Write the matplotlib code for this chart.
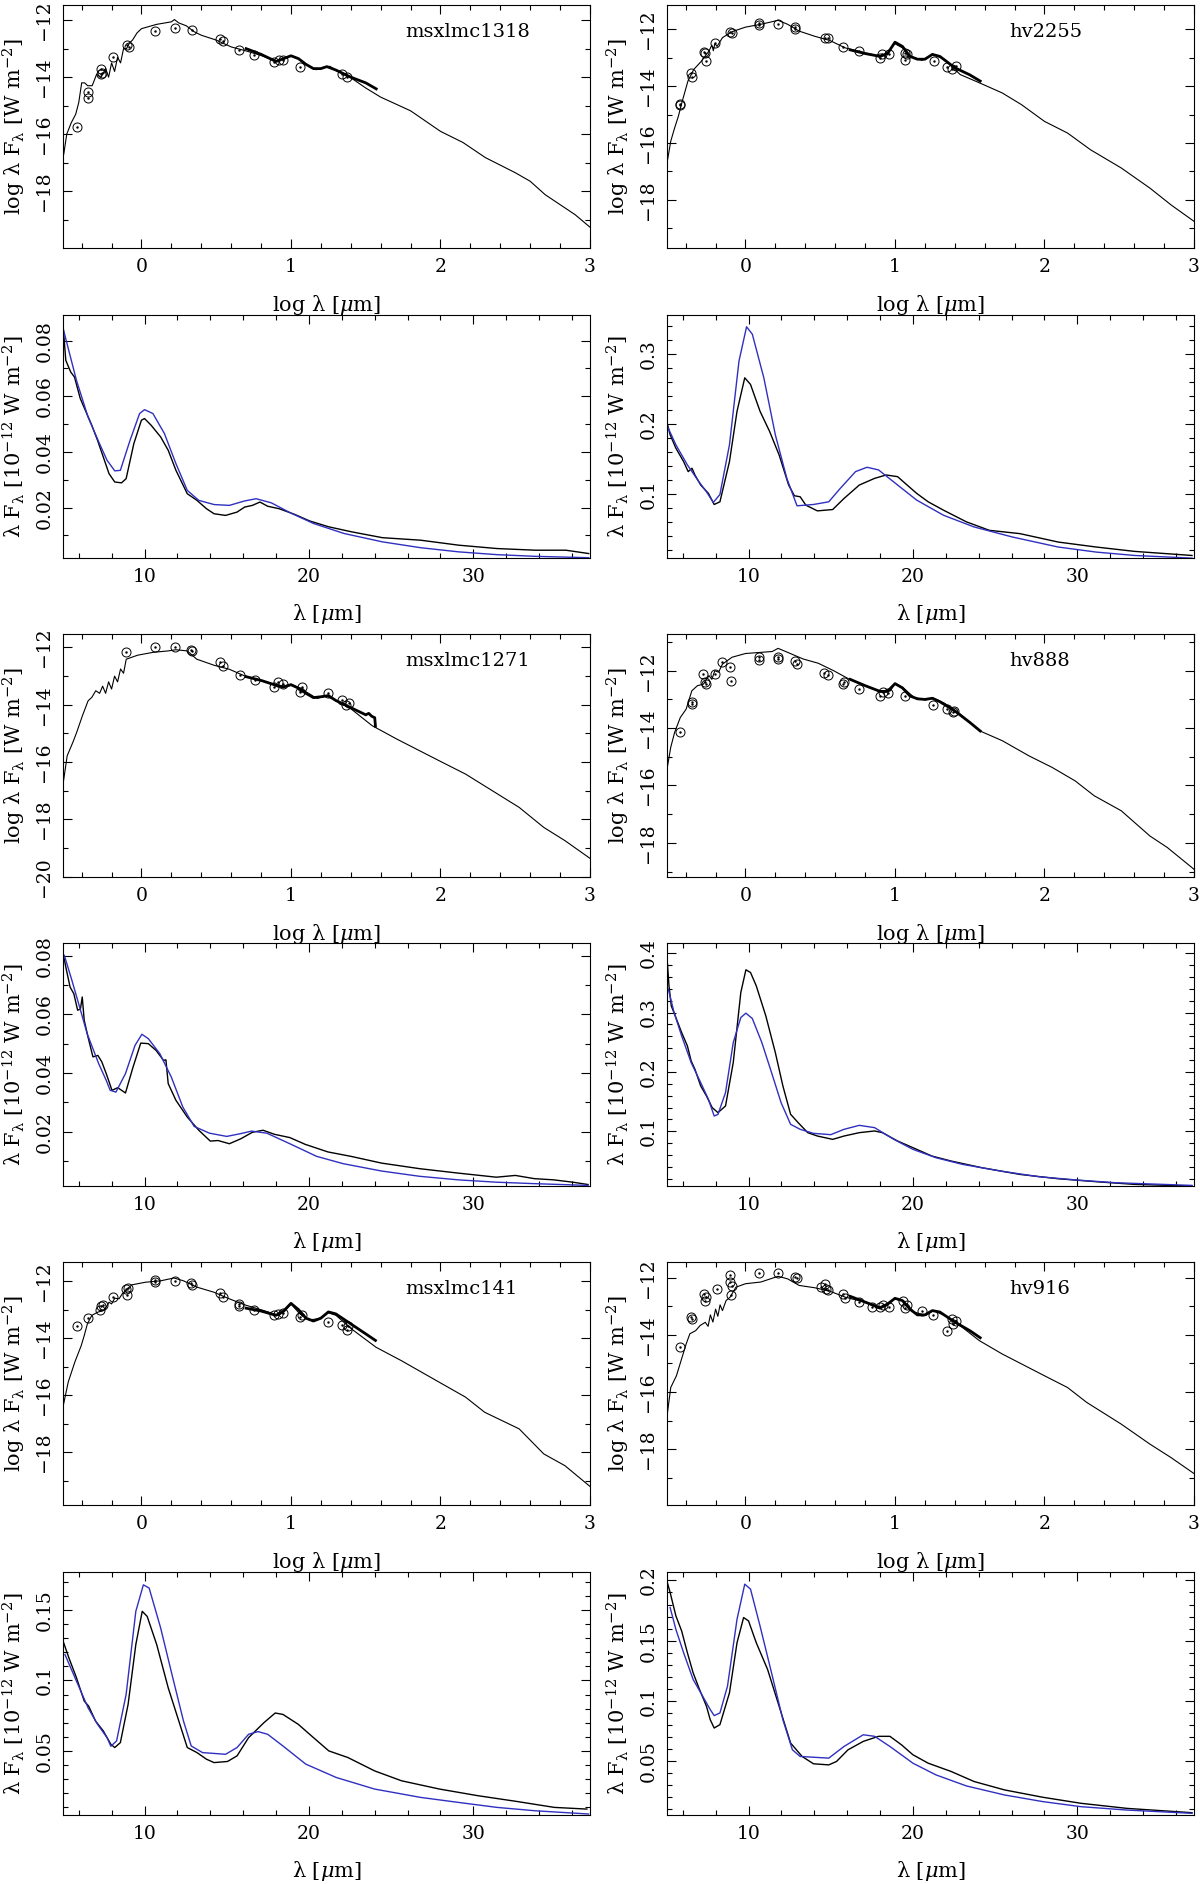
import numpy as np
import matplotlib
matplotlib.use("Agg")
import matplotlib.pyplot as plt
from matplotlib.ticker import MultipleLocator, FuncFormatter

plt.rcParams['font.family'] = ['DejaVu Serif']
plt.rcParams['mathtext.fontset'] = 'dejavuserif'

BLUE = '#3030c0'

# ---------------- msxlmc1318 ----------------
m1318_mod_x = [-0.52, -0.50, -0.47, -0.44, -0.42, -0.40, -0.38, -0.36, -0.33, -0.30, -0.27, -0.24,
               -0.22, -0.20, -0.18, -0.16, -0.14, -0.12, -0.10, -0.08, -0.06, -0.03, 0.0, 0.1, 0.2,
               0.22, 0.25, 0.3, 0.35, 0.4, 0.5, 0.6, 0.7, 0.8, 0.9, 0.95, 1.0, 1.05, 1.1, 1.17,
               1.22, 1.26, 1.3, 1.4, 1.5, 1.6, 1.8, 2.0, 2.15, 2.3, 2.5, 2.6, 2.7, 2.8, 2.9, 3.0]
m1318_mod_y = [-16.7, -16.0, -15.6, -15.3, -14.9, -14.2, -14.2, -14.3, -14.3, -13.9, -14.0, -13.7,
               -14.0, -13.5, -13.8, -13.3, -13.5, -13.0, -13.0, -12.8, -12.7, -12.45, -12.3, -12.15,
               -12.06, -11.98, -12.1, -12.2, -12.4, -12.53, -12.7, -12.94, -13.08, -13.24, -13.44,
               -13.35, -13.24, -13.35, -13.56, -13.74, -13.65, -13.62, -13.76, -14.02, -14.38, -14.7,
               -15.18, -15.9, -16.29, -16.82, -17.35, -17.65, -18.12, -18.47, -18.82, -19.26]
m1318_spec_x = [0.7, 0.75, 0.8, 0.9, 0.95, 1.0, 1.05, 1.1, 1.15, 1.2, 1.24, 1.3, 1.4, 1.5, 1.57]
m1318_spec_y = [-13.0, -13.1, -13.2, -13.45, -13.35, -13.25, -13.35, -13.55, -13.7, -13.7, -13.63,
                -13.75, -14.0, -14.2, -14.41]
m1318_pts_x = [-0.434, -0.357, -0.357, -0.268, -0.268, -0.262, -0.19, -0.094, -0.082, 0.089, 0.222,
               0.337, 0.523, 0.548, 0.65, 0.753, 0.888, 0.923, 0.949, 1.059, 1.339, 1.372]
m1318_pts_y = [-15.74, -14.53, -14.73, -13.73, -13.9, -13.85, -13.29, -12.88, -12.94, -12.39, -12.26,
               -12.35, -12.67, -12.73, -13.06, -13.24, -13.47, -13.39, -13.41, -13.65, -13.88, -14.0]
m1318_irs_lam = [5.05, 5.21, 5.51, 5.74, 6.09, 6.44, 6.79, 7.14, 7.49, 7.84, 8.19, 8.6, 8.88, 9.35,
                 9.81, 10.0, 10.4, 10.98, 11.44, 11.91, 12.6, 13.19, 13.77, 14.23, 14.93, 15.63,
                 16.09, 16.56, 17.02, 17.49, 18.19, 19.12, 20.05, 21.21, 22.6, 24.47, 26.79, 29.12,
                 31.44, 33.77, 35.63, 37.02]
m1318_irs_flux = [0.0849, 0.0729, 0.0687, 0.0669, 0.0592, 0.0544, 0.0496, 0.0442, 0.0382, 0.0322,
                  0.0292, 0.0289, 0.0304, 0.043, 0.0514, 0.052, 0.0496, 0.0454, 0.0406, 0.0334,
                  0.025, 0.0226, 0.0196, 0.0178, 0.0172, 0.0184, 0.0202, 0.0208, 0.022, 0.0205,
                  0.0196, 0.0176, 0.0152, 0.0131, 0.0113, 0.0092, 0.0083, 0.0065, 0.0053, 0.0047,
                  0.0047, 0.0035]
m1318_fit_lam = [5.05, 5.86, 6.56, 7.26, 7.72, 8.19, 8.53, 9.12, 9.7, 10.0, 10.51, 11.21, 11.91,
                 12.6, 13.3, 14.23, 15.16, 16.09, 16.79, 17.72, 18.88, 20.28, 22.14, 24.47, 26.79,
                 29.12, 31.44, 33.77, 37.02]
m1318_fit_flux = [0.0843, 0.0657, 0.0526, 0.043, 0.037, 0.0332, 0.0334, 0.0442, 0.0538, 0.0552,
                  0.0538, 0.0466, 0.0358, 0.0262, 0.0226, 0.0211, 0.0208, 0.0224, 0.0232, 0.0217,
                  0.0181, 0.0143, 0.0107, 0.0077, 0.0056, 0.0041, 0.0031, 0.0025, 0.002]

# ---------------- hv2255 ----------------
h2255_mod_x = [-0.523, -0.5, -0.474, -0.449, -0.423, -0.385, -0.346, -0.295, -0.244, -0.225, -0.215,
               -0.205, -0.19, -0.154, -0.09, 0.0, 0.103, 0.218, 0.282, 0.359, 0.462, 0.564, 0.667,
               0.795, 0.897, 0.949, 0.995, 1.05, 1.103, 1.18, 1.256, 1.333, 1.436, 1.564, 1.718,
               1.846, 2.0, 2.154, 2.308, 2.513, 2.705, 2.846, 3.0]
h2255_mod_y = [-16.65, -15.94, -15.47, -15.06, -14.53, -13.82, -13.41, -13.12, -12.76, -12.55,
               -12.75, -12.5, -12.6, -12.29, -12.08, -11.92, -11.82, -11.68, -11.82, -12.06, -12.24,
               -12.39, -12.65, -12.82, -12.94, -12.88, -12.49, -12.65, -12.94, -13.09, -12.88,
               -13.06, -13.59, -13.88, -14.24, -14.65, -15.24, -15.65, -16.24, -16.88, -17.59,
               -18.18, -18.76]
h2255_spec_x = [0.7, 0.8, 0.9, 0.95, 1.0, 1.05, 1.1, 1.15, 1.2, 1.25, 1.3, 1.4, 1.5, 1.57]
h2255_spec_y = [-12.72, -12.85, -12.95, -12.85, -12.45, -12.6, -12.95, -13.05, -13.05, -12.88,
                -12.95, -13.35, -13.6, -13.82]
h2255_pts_x = [-0.441, -0.436, -0.364, -0.359, -0.277, -0.269, -0.262, -0.205, -0.103, -0.09, 0.09,
               0.09, 0.218, 0.333, 0.333, 0.533, 0.551, 0.654, 0.762, 0.897, 0.91, 0.962, 1.064,
               1.064, 1.077, 1.264, 1.346, 1.38, 1.405]
h2255_pts_y = [-14.61, -14.67, -13.53, -13.68, -12.79, -12.82, -13.12, -12.47, -12.08, -12.11,
               -11.76, -11.84, -11.82, -11.92, -12.0, -12.29, -12.31, -12.62, -12.76, -13.0, -12.86,
               -12.88, -12.82, -13.09, -12.88, -13.12, -13.32, -13.41, -13.29]
h2255_irs_lam = [5.02, 5.23, 5.58, 6.05, 6.33, 6.56, 6.74, 7.09, 7.56, 7.91, 8.26, 8.84, 9.3, 9.77,
                 10.12, 10.7, 11.28, 11.86, 12.44, 12.79, 13.14, 13.49, 14.19, 15.12, 15.81, 16.74,
                 17.67, 18.37, 19.07, 19.53, 20.23, 20.93, 21.86, 23.26, 24.65, 26.51, 28.84, 31.16,
                 33.49, 36.98]
h2255_irs_flux = [0.2036, 0.1845, 0.1654, 0.1463, 0.132, 0.1368, 0.1272, 0.1129, 0.101, 0.0852,
                  0.089, 0.1463, 0.2179, 0.2656, 0.2561, 0.2179, 0.1893, 0.1558, 0.1129, 0.0976,
                  0.0962, 0.0842, 0.0761, 0.078, 0.0938, 0.1129, 0.1224, 0.1272, 0.1248, 0.1153,
                  0.101, 0.089, 0.0771, 0.0604, 0.0484, 0.0437, 0.0317, 0.0246, 0.0184, 0.0126]
h2255_fit_lam = [5.02, 5.58, 6.28, 6.98, 7.44, 7.86, 8.26, 8.84, 9.42, 9.88, 10.23, 10.93, 11.63,
                 12.33, 12.95, 13.95, 14.88, 15.58, 16.51, 17.21, 17.91, 19.07, 20.23, 21.86, 23.72,
                 26.05, 28.84, 31.16, 33.49, 36.98]
h2255_fit_flux = [0.1988, 0.1702, 0.1415, 0.1177, 0.1033, 0.0881, 0.0995, 0.1702, 0.2895, 0.3382,
                  0.3277, 0.2656, 0.1845, 0.1224, 0.0833, 0.0852, 0.089, 0.1081, 0.132, 0.1382,
                  0.1344, 0.1129, 0.0914, 0.0699, 0.0532, 0.0389, 0.0246, 0.0174, 0.0126, 0.0088]

# ---------------- msxlmc1271 ----------------
m1271_mod_x = [-0.523, -0.497, -0.459, -0.434, -0.395, -0.357, -0.332, -0.306, -0.28, -0.26, -0.24,
               -0.22, -0.2, -0.18, -0.16, -0.14, -0.12, -0.102, -0.026, 0.077, 0.179, 0.23, 0.306,
               0.37, 0.485, 0.587, 0.689, 0.842, 0.944, 1.0, 1.071, 1.173, 1.237, 1.301, 1.403,
               1.543, 1.709, 1.99, 2.168, 2.347, 2.526, 2.691, 2.832, 3.0]
m1271_mod_y = [-16.71, -15.78, -15.31, -14.97, -14.38, -13.86, -13.74, -13.51, -13.6, -13.35,
               -13.6, -13.2, -13.45, -13.0, -13.2, -12.75, -12.9, -12.41, -12.27, -12.17, -12.12,
               -12.08, -12.12, -12.41, -12.62, -12.76, -12.99, -13.22, -13.36, -13.28, -13.45,
               -13.78, -13.69, -13.86, -14.15, -14.73, -15.2, -15.95, -16.42, -17.0, -17.58,
               -18.28, -18.74, -19.36]
m1271_spec_x = [0.7, 0.8, 0.9, 0.95, 1.0, 1.05, 1.1, 1.15, 1.2, 1.25, 1.3, 1.4, 1.5, 1.52, 1.54,
                1.56, 1.565]
m1271_spec_y = [-13.02, -13.15, -13.32, -13.38, -13.3, -13.42, -13.6, -13.75, -13.72, -13.68,
                -13.85, -14.1, -14.35, -14.3, -14.4, -14.45, -14.75]
m1271_pts_x = [-0.102, 0.089, 0.222, 0.332, 0.337, 0.523, 0.548, 0.658, 0.76, 0.888, 0.913, 0.944,
               1.071, 1.059, 1.25, 1.339, 1.39, 1.365]
m1271_pts_y = [-12.17, -11.98, -11.97, -12.09, -12.13, -12.52, -12.66, -12.97, -13.13, -13.37,
               -13.2, -13.28, -13.37, -13.55, -13.59, -13.84, -13.94, -14.01]
m1271_irs_lam = [5.07, 5.23, 5.47, 5.7, 5.93, 6.1, 6.21, 6.33, 6.56, 6.86, 7.16, 7.4, 7.67, 8.02,
                 8.37, 8.84, 9.3, 9.77, 10.23, 10.7, 11.16, 11.3, 11.44, 11.91, 12.6, 13.3, 14.0,
                 14.47, 15.16, 15.86, 16.56, 17.21, 17.91, 18.84, 19.77, 21.16, 22.56, 24.42, 26.74,
                 29.07, 31.4, 32.56, 33.72, 34.88, 36.05, 36.98]
m1271_irs_flux = [0.0801, 0.0756, 0.0693, 0.067, 0.0614, 0.0618, 0.0659, 0.058, 0.0523, 0.0455,
                  0.046, 0.0438, 0.0398, 0.0341, 0.035, 0.0332, 0.042, 0.0502, 0.05, 0.0477, 0.0443,
                  0.0445, 0.0364, 0.0307, 0.025, 0.0205, 0.0168, 0.017, 0.0159, 0.0176, 0.0198,
                  0.0205, 0.0191, 0.018, 0.0157, 0.0131, 0.0116, 0.0093, 0.0074, 0.0059, 0.0045,
                  0.0051, 0.004, 0.0036, 0.0028, 0.002]
m1271_fit_lam = [5.12, 5.58, 6.05, 6.51, 7.21, 7.67, 7.91, 8.26, 8.84, 9.42, 9.84, 10.23, 10.93,
                 11.63, 12.33, 13.02, 13.95, 15.0, 15.81, 16.51, 17.44, 18.84, 20.47, 22.09, 24.42,
                 26.74, 29.07, 31.4, 33.72, 36.98]
m1271_fit_flux = [0.0801, 0.0716, 0.0625, 0.0534, 0.0432, 0.0375, 0.0341, 0.0335, 0.0398, 0.0494,
                  0.0532, 0.0517, 0.0466, 0.0386, 0.0284, 0.0218, 0.0195, 0.0184, 0.0193, 0.0202,
                  0.0195, 0.0159, 0.0116, 0.0091, 0.0066, 0.0048, 0.0036, 0.0028, 0.0023, 0.0017]

# ---------------- hv888 ----------------
h888_mod_x = [-0.523, -0.5, -0.474, -0.436, -0.397, -0.359, -0.321, -0.282, -0.244, -0.225, -0.205,
              -0.18, -0.154, -0.09, 0.0, 0.103, 0.179, 0.218, 0.282, 0.385, 0.487, 0.59, 0.692,
              0.821, 0.923, 0.969, 1.0, 1.051, 1.128, 1.205, 1.256, 1.333, 1.436, 1.564, 1.718,
              1.897, 2.051, 2.205, 2.333, 2.513, 2.705, 2.821, 3.0]
h888_mod_y = [-15.37, -14.67, -14.15, -13.63, -13.34, -12.7, -12.52, -12.47, -12.17, -12.3, -12.0,
              -12.05, -11.77, -11.53, -11.4, -11.36, -11.33, -11.22, -11.36, -11.59, -11.74, -12.0,
              -12.29, -12.56, -12.76, -12.7, -12.44, -12.58, -12.93, -13.02, -12.95, -13.14,
              -13.51, -14.09, -14.44, -14.97, -15.37, -15.84, -16.36, -16.88, -17.76, -18.16,
              -18.92]
h888_spec_x = [0.7, 0.8, 0.9, 0.95, 1.0, 1.05, 1.1, 1.15, 1.2, 1.25, 1.3, 1.4, 1.5, 1.57]
h888_spec_y = [-12.3, -12.52, -12.72, -12.72, -12.45, -12.6, -12.88, -12.98, -13.0, -12.96, -13.08,
               -13.4, -13.8, -14.1]
h888_pts_x = [-0.436, -0.359, -0.355, -0.287, -0.262, -0.27, -0.205, -0.159, -0.103, -0.097, 0.09,
              0.09, 0.218, 0.218, 0.333, 0.345, 0.526, 0.551, 0.654, 0.66, 0.762, 0.897, 0.918,
              0.954, 1.064, 1.256, 1.346, 1.385, 1.398]
h888_pts_y = [-14.15, -13.16, -13.1, -12.12, -12.47, -12.39, -12.12, -11.71, -11.88, -12.35, -11.53,
              -11.62, -11.51, -11.59, -11.67, -11.76, -12.09, -12.15, -12.47, -12.4, -12.64, -12.87,
              -12.73, -12.79, -12.87, -13.19, -13.34, -13.43, -13.4]
h888_irs_lam = [5.02, 5.16, 5.3, 5.58, 5.93, 6.28, 6.51, 6.74, 7.09, 7.44, 7.79, 8.14, 8.6, 9.07,
                9.53, 9.84, 10.12, 10.47, 11.05, 11.63, 12.09, 12.56, 13.02, 13.6, 14.19, 15.12,
                15.81, 16.74, 17.67, 18.14, 19.07, 20.0, 21.16, 22.33, 24.19, 26.51, 28.84, 31.16,
                33.49, 36.98]
h888_irs_flux = [0.4011, 0.345, 0.3112, 0.2916, 0.2663, 0.2438, 0.2185, 0.2045, 0.1764, 0.1596,
                 0.1399, 0.1315, 0.1427, 0.2157, 0.3337, 0.3719, 0.3674, 0.3449, 0.2944, 0.2326,
                 0.1764, 0.1287, 0.1146, 0.0978, 0.0921, 0.0865, 0.0921, 0.0978, 0.1006, 0.0978,
                 0.0837, 0.0725, 0.0584, 0.05, 0.0388, 0.0275, 0.0202, 0.0152, 0.0107, 0.0079]
h888_fit_lam = [5.12, 5.47, 5.93, 6.51, 7.09, 7.56, 7.91, 8.14, 8.6, 9.07, 9.53, 9.84, 10.23, 10.81,
                11.4, 11.98, 12.56, 13.14, 13.95, 15.0, 15.81, 16.74, 17.67, 18.84, 20.0, 21.4,
                23.02, 25.35, 27.67, 30.0, 32.33, 36.98]
h888_fit_flux = [0.3393, 0.3, 0.2607, 0.2157, 0.182, 0.1539, 0.1258, 0.1285, 0.1652, 0.2494,
                 0.2916, 0.2989, 0.2899, 0.2494, 0.1989, 0.1483, 0.1118, 0.1034, 0.0966, 0.0944,
                 0.1034, 0.1101, 0.1062, 0.0865, 0.0697, 0.0556, 0.0444, 0.0331, 0.0236, 0.018,
                 0.0135, 0.009]

# ---------------- msxlmc141 ----------------
m141_mod_x = [-0.523, -0.49, -0.446, -0.403, -0.383, -0.362, -0.332, -0.293, -0.255, -0.235,
              -0.217, -0.2, -0.179, -0.15, -0.128, -0.064, 0.026, 0.128, 0.217, 0.281, 0.37, 0.485,
              0.587, 0.689, 0.816, 0.918, 0.957, 1.0, 1.059, 1.122, 1.186, 1.25, 1.301, 1.403,
              1.569, 1.735, 1.99, 2.168, 2.296, 2.526, 2.691, 2.832, 3.0]
m141_mod_y = [-16.36, -15.54, -14.84, -14.26, -13.91, -13.5, -13.2, -13.09, -13.03, -12.9, -12.74,
              -12.8, -12.6, -12.62, -12.44, -12.13, -12.04, -11.99, -11.89, -11.99, -12.21, -12.39,
              -12.62, -12.83, -13.03, -13.2, -13.06, -12.8, -13.15, -13.36, -13.32, -13.11, -13.2,
              -13.67, -14.32, -14.78, -15.54, -16.07, -16.6, -17.18, -18.06, -18.47, -19.2]
m141_spec_x = [0.7, 0.8, 0.9, 0.95, 1.0, 1.05, 1.1, 1.15, 1.2, 1.25, 1.3, 1.4, 1.5, 1.565]
m141_spec_y = [-12.95, -13.05, -13.2, -13.05, -12.78, -13.0, -13.3, -13.4, -13.3, -13.08, -13.15,
               -13.5, -13.85, -14.08]
m141_pts_x = [-0.434, -0.357, -0.276, -0.268, -0.26, -0.191, -0.102, -0.089, -0.097, 0.089, 0.089,
              0.222, 0.332, 0.337, 0.523, 0.548, 0.65, 0.655, 0.753, 0.888, 0.913, 0.944, 1.059,
              1.071, 1.25, 1.339, 1.372, 1.383]
m141_pts_y = [-13.58, -13.29, -13.03, -12.88, -12.83, -12.56, -12.27, -12.25, -12.5, -11.95, -12.03,
              -11.98, -12.07, -12.13, -12.42, -12.56, -12.8, -12.88, -13.01, -13.2, -13.15, -13.11,
              -13.26, -13.18, -13.42, -13.53, -13.7, -13.56]
m141_irs_lam = [5.05, 5.4, 5.86, 6.33, 6.6, 7.02, 7.49, 7.95, 8.19, 8.53, 9.0, 9.47, 9.86, 10.16,
                10.74, 11.44, 12.02, 12.6, 13.19, 13.77, 14.23, 15.05, 15.63, 16.33, 17.26, 17.95,
                18.42, 19.35, 20.28, 21.21, 22.37, 24.0, 25.63, 27.95, 30.28, 32.6, 34.93, 36.91]
m141_irs_flux = [0.1278, 0.116, 0.1019, 0.0854, 0.0818, 0.0712, 0.0642, 0.0547, 0.0524, 0.0559,
                 0.083, 0.1255, 0.1491, 0.1455, 0.1255, 0.0948, 0.0736, 0.0524, 0.0488, 0.0441,
                 0.0417, 0.0425, 0.0465, 0.0594, 0.07, 0.0769, 0.0759, 0.0689, 0.0594, 0.05,
                 0.0453, 0.0358, 0.0288, 0.0229, 0.0182, 0.0142, 0.0099, 0.0087]
m141_fit_lam = [5.16, 5.86, 6.56, 7.14, 7.72, 7.95, 8.3, 8.88, 9.47, 9.93, 10.28, 10.98, 11.67,
                12.37, 12.84, 13.53, 14.93, 15.63, 16.33, 16.91, 17.49, 18.42, 19.81, 21.67, 24.0,
                26.79, 29.12, 31.44, 33.77, 37.02]
m141_fit_flux = [0.1184, 0.0995, 0.0807, 0.0689, 0.0594, 0.0533, 0.0571, 0.0901, 0.1491, 0.1679,
                 0.1656, 0.1373, 0.1042, 0.0712, 0.0535, 0.0488, 0.0476, 0.0524, 0.0618, 0.0637,
                 0.0618, 0.0535, 0.0406, 0.0311, 0.0229, 0.017, 0.0134, 0.0099, 0.0075, 0.0052]

# ---------------- hv916 ----------------
h916_mod_x = [-0.523, -0.5, -0.462, -0.431, -0.397, -0.372, -0.333, -0.303, -0.269, -0.25, -0.235,
              -0.218, -0.2, -0.185, -0.17, -0.154, -0.13, -0.103, -0.064, 0.0, 0.103, 0.218, 0.282,
              0.359, 0.462, 0.564, 0.667, 0.795, 0.897, 0.949, 0.995, 1.051, 1.128, 1.205, 1.256,
              1.333, 1.449, 1.564, 1.718, 2.0, 2.154, 2.282, 2.513, 2.705, 2.846, 3.0]
h916_mod_y = [-16.77, -15.84, -15.43, -14.9, -14.32, -13.96, -13.85, -13.67, -13.56, -13.7, -13.3,
              -13.55, -13.1, -13.35, -12.95, -13.15, -12.8, -12.68, -12.33, -12.21, -12.15, -11.95,
              -12.04, -12.27, -12.35, -12.47, -12.68, -12.85, -13.09, -12.97, -12.74, -12.8,
              -13.2, -13.32, -13.15, -13.32, -13.73, -14.2, -14.67, -15.43, -15.84, -16.36,
              -17.12, -17.82, -18.29, -18.85]
h916_spec_x = [0.7, 0.8, 0.9, 0.95, 1.0, 1.05, 1.1, 1.15, 1.2, 1.25, 1.3, 1.4, 1.5, 1.57]
h916_spec_y = [-12.65, -12.85, -13.05, -12.92, -12.72, -12.8, -13.1, -13.3, -13.3, -13.15, -13.2,
               -13.55, -13.85, -14.1]
h916_pts_x = [-0.436, -0.364, -0.359, -0.277, -0.269, -0.262, -0.192, -0.103, -0.103, -0.09,
              -0.097, 0.09, 0.218, 0.333, 0.346, 0.508, 0.533, 0.551, 0.54, 0.654, 0.667, 0.762,
              0.846, 0.897, 0.923, 0.962, 1.051, 1.064, 1.077, 1.18, 1.256, 1.346, 1.379, 1.39,
              1.405]
h916_pts_y = [-14.43, -13.38, -13.44, -12.56, -12.8, -12.68, -12.39, -11.92, -12.15, -12.3, -12.62,
              -11.84, -11.82, -11.98, -12.0, -12.33, -12.23, -12.42, -12.38, -12.56, -12.7, -12.85,
              -13.01, -13.03, -12.97, -13.01, -12.8, -13.06, -12.97, -13.17, -13.32, -13.85,
              -13.44, -13.61, -13.52]
h916_irs_lam = [5.07, 5.23, 5.58, 5.93, 6.28, 6.63, 6.98, 7.44, 7.67, 7.91, 8.26, 8.84, 9.3, 9.7,
                10.0, 10.47, 11.16, 11.86, 12.56, 13.26, 13.95, 14.88, 15.35, 16.05, 16.98, 17.91,
                18.6, 19.3, 20.0, 20.93, 22.33, 23.72, 25.58, 27.91, 30.23, 33.02, 36.98]
h916_irs_flux = [0.1978, 0.19, 0.1706, 0.1581, 0.14, 0.1233, 0.1108, 0.0956, 0.0844, 0.0775,
                 0.0803, 0.1067, 0.1483, 0.1692, 0.1664, 0.1483, 0.1261, 0.0956, 0.065, 0.0539,
                 0.0478, 0.0469, 0.0497, 0.0594, 0.0664, 0.0706, 0.0706, 0.0636, 0.0553, 0.0483,
                 0.0414, 0.0331, 0.0261, 0.02, 0.015, 0.0108, 0.0072]
h916_fit_lam = [5.23, 5.58, 6.05, 6.63, 7.21, 7.67, 7.91, 8.26, 8.72, 9.3, 9.77, 10.12, 10.7, 11.4,
                12.09, 12.67, 13.14, 14.88, 15.81, 16.98, 17.67, 18.6, 20.0, 21.4, 23.26, 25.58,
                27.91, 30.23, 33.02, 36.98]
h916_fit_flux = [0.1775, 0.1594, 0.14, 0.1178, 0.1039, 0.0928, 0.0878, 0.09, 0.1122, 0.1678,
                 0.1969, 0.1928, 0.1622, 0.1233, 0.0844, 0.0594, 0.0539, 0.0525, 0.0622, 0.0719,
                 0.0706, 0.0622, 0.0483, 0.0386, 0.0294, 0.0219, 0.0164, 0.0122, 0.0094, 0.0067]

stars = [
    ('msxlmc1318', m1318_mod_x, m1318_mod_y, m1318_spec_x, m1318_spec_y, m1318_pts_x, m1318_pts_y,
     m1318_irs_lam, m1318_irs_flux, m1318_fit_lam, m1318_fit_flux),
    ('hv2255', h2255_mod_x, h2255_mod_y, h2255_spec_x, h2255_spec_y, h2255_pts_x, h2255_pts_y,
     h2255_irs_lam, h2255_irs_flux, h2255_fit_lam, h2255_fit_flux),
    ('msxlmc1271', m1271_mod_x, m1271_mod_y, m1271_spec_x, m1271_spec_y, m1271_pts_x, m1271_pts_y,
     m1271_irs_lam, m1271_irs_flux, m1271_fit_lam, m1271_fit_flux),
    ('hv888', h888_mod_x, h888_mod_y, h888_spec_x, h888_spec_y, h888_pts_x, h888_pts_y,
     h888_irs_lam, h888_irs_flux, h888_fit_lam, h888_fit_flux),
    ('msxlmc141', m141_mod_x, m141_mod_y, m141_spec_x, m141_spec_y, m141_pts_x, m141_pts_y,
     m141_irs_lam, m141_irs_flux, m141_fit_lam, m141_fit_flux),
    ('hv916', h916_mod_x, h916_mod_y, h916_spec_x, h916_spec_y, h916_pts_x, h916_pts_y,
     h916_irs_lam, h916_irs_flux, h916_fit_lam, h916_fit_flux),
]

# axis ranges: (sed ylim, spectrum ylim, spectrum major/minor step)
sed_ylims = [(-19.99, -11.47), (-19.7, -11.14), (-20.01, -11.53),
             (-19.19, -10.72), (-19.85, -11.33), (-19.95, -11.45)]
irs_ylims = [(0.0019, 0.0892), (0.009, 0.355), (0.0015, 0.0843),
             (0.008, 0.417), (0.0045, 0.177), (0.0053, 0.207)]
irs_steps = [(0.02, 0.01), (0.1, 0.02), (0.02, 0.01), (0.1, 0.02), (0.05, 0.01), (0.05, 0.01)]

W, H = 1200, 1884
fig = plt.figure(figsize=(W / 100, H / 100), dpi=100)

col_x = [63, 667]
ax_w = 527
ax_h = 243
row_tops = [5, 315, 634, 943, 1262, 1572]

fmt = FuncFormatter(lambda v, p: f'{v:g}'.replace('-', '\u2212'))

# upright lambda like the original plotting package
LAM = r'$\mathrm{\lambda}$'
SED_XLABEL = 'log λ [$\\mu$m]'
SED_YLABEL = 'log λ F$_{\\mathrm{\\lambda}}$ [W m$^{-2}$]'
IRS_XLABEL = 'λ [$\\mu$m]'
IRS_YLABEL = 'λ F$_{\\mathrm{\\lambda}}$ [10$^{-12}$ W m$^{-2}$]'


def style(ax):
    ax.tick_params(which='both', direction='in', top=True, right=True, width=0.8, labelsize=13.5)
    ax.tick_params(which='major', length=6.5)
    ax.tick_params(which='minor', length=3.5)
    ax.tick_params(axis='x', pad=7)
    ax.tick_params(axis='y', pad=7, labelrotation=90)
    for s in ax.spines.values():
        s.set_linewidth(0.8)
    ax.xaxis.set_major_formatter(fmt)
    ax.yaxis.set_major_formatter(fmt)
    for t in ax.get_yticklabels():
        t.set_va('center')


def add_axes(row, col):
    top = row_tops[row]
    return fig.add_axes([col_x[col] / W, 1 - (top + ax_h) / H, ax_w / W, ax_h / H])


for i, st in enumerate(stars):
    name, mx, my, sx, sy, px, py, il, iflux, fl, fflux = st
    col = i % 2
    row = (i // 2) * 2

    ax = add_axes(row, col)
    ax.plot(mx, my, color='k', lw=0.8)
    ax.plot(sx, sy, color='k', lw=2.0)
    ax.plot(px, py, 'o', mfc='none', mec='k', ms=6.5, mew=0.7)
    ax.plot(px, py, '.', color='k', ms=1.5)
    ax.set_xlim(-0.525, 3.0)
    ax.set_ylim(*sed_ylims[i])
    ax.xaxis.set_major_locator(MultipleLocator(1))
    ax.xaxis.set_minor_locator(MultipleLocator(0.2))
    ax.yaxis.set_major_locator(MultipleLocator(2))
    ax.yaxis.set_minor_locator(MultipleLocator(1))
    style(ax)
    ax.text(0.65, 0.89, name, transform=ax.transAxes, fontsize=14, ha='left', va='center')
    ax.text(0.5, -0.235, SED_XLABEL, transform=ax.transAxes, fontsize=15,
            ha='center', va='center')
    ax.text(-0.093, 0.5, SED_YLABEL, transform=ax.transAxes,
            fontsize=15, rotation=90, ha='center', va='center')

    ax2 = add_axes(row + 1, col)
    ax2.plot(il, iflux, color='k', lw=1.0)
    ax2.plot(fl, fflux, color=BLUE, lw=1.0)
    ax2.set_xlim(5.04, 37.1)
    ax2.set_ylim(*irs_ylims[i])
    ax2.xaxis.set_major_locator(MultipleLocator(10))
    ax2.xaxis.set_minor_locator(MultipleLocator(2))
    ax2.yaxis.set_major_locator(MultipleLocator(irs_steps[i][0]))
    ax2.yaxis.set_minor_locator(MultipleLocator(irs_steps[i][1]))
    style(ax2)
    ax2.text(0.5, -0.23, IRS_XLABEL, transform=ax2.transAxes, fontsize=15,
             ha='center', va='center')
    ax2.text(-0.093, 0.5, IRS_YLABEL, transform=ax2.transAxes,
             fontsize=15, rotation=90, ha='center', va='center')

fig.savefig('out.png', dpi=100)
